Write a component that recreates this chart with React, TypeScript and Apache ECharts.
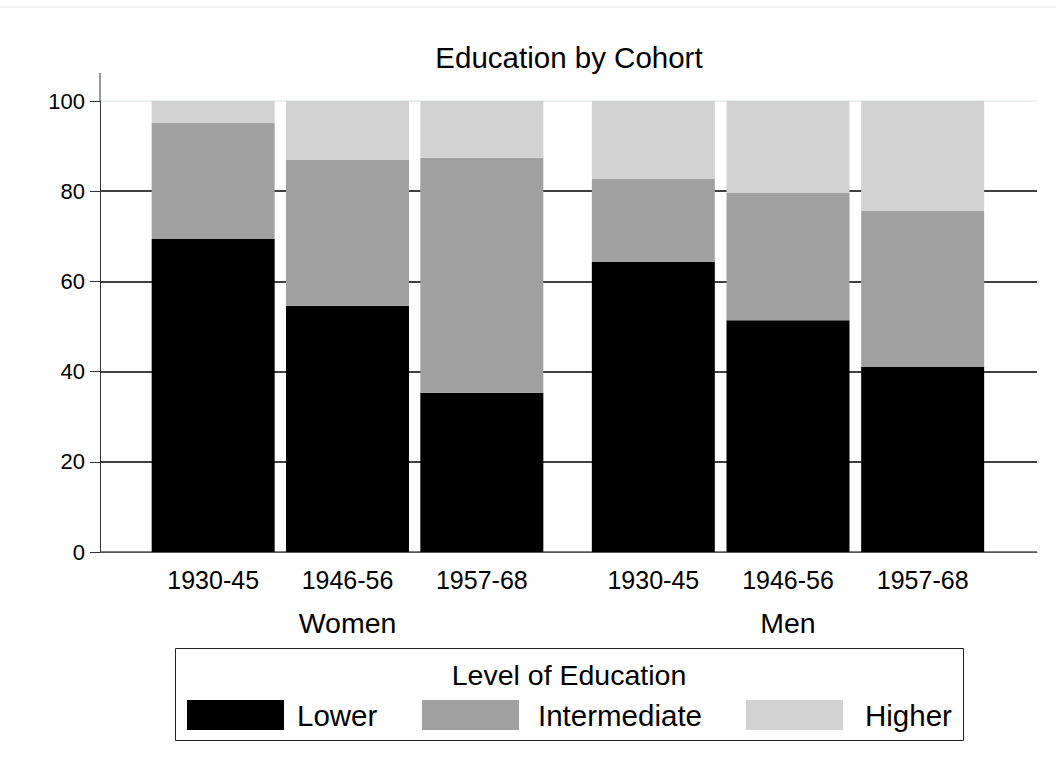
import React, { useEffect, useRef } from "react";
import * as echarts from "echarts";

const cohorts = ["1930-45", "1946-56", "1957-68"];
const groups = ["Women", "Men"];
const levels = ["Lower", "Intermediate", "Higher"];
const levelColors = ["#000000", "#a0a0a0", "#d2d2d2"];

const womenLower = [69.4, 54.6, 35.3];
const womenIntermediate = [25.7, 32.3, 52.1];
const womenHigher = [4.9, 13.1, 12.6];

const menLower = [64.3, 51.4, 41.0];
const menIntermediate = [18.4, 28.2, 34.6];
const menHigher = [17.3, 20.4, 24.4];

const FONT = "'Liberation Sans', Arial, Helvetica, sans-serif";

export default function App() {
  const ref = useRef<HTMLDivElement>(null);

  useEffect(() => {
    if (!ref.current) return;
    const chart = echarts.init(ref.current, null, { renderer: "svg" });

    const groupData = [
      [womenLower, womenIntermediate, womenHigher],
      [menLower, menIntermediate, menHigher],
    ];

    const series: any[] = [];
    groupData.forEach((g, gi) => {
      g.forEach((vals, li) => {
        series.push({
          type: "bar",
          name: levels[li],
          xAxisIndex: gi + 1,
          yAxisIndex: gi + 1,
          stack: groups[gi],
          barWidth: 123,
          data: vals,
          itemStyle: { color: levelColors[li] },
          emphasis: { disabled: true },
        });
      });
    });

    const legendLefts = [187, 422, 746];
    const legendTextPad = [8, 14, 17];

    const option: any = {
      animation: false,
      backgroundColor: "#ffffff",
      textStyle: { fontFamily: FONT },
      grid: [
        { left: 100, top: 101, right: 19, bottom: 219, containLabel: false },
        { left: 146, top: 101, width: 403, bottom: 219, containLabel: false },
        { left: 586, top: 101, width: 404, bottom: 219, containLabel: false },
      ],
      xAxis: [
        {
          gridIndex: 0,
          type: "category",
          data: [""],
          axisLine: { show: true, lineStyle: { color: "#555555", width: 1 } },
          axisTick: { show: false },
          axisLabel: { show: false },
          splitLine: { show: false },
        },
        ...groups.map((g, gi) => ({
          gridIndex: gi + 1,
          type: "category",
          data: cohorts,
          axisLine: { show: false },
          axisTick: { show: false },
          axisLabel: {
            show: true,
            color: "#000",
            fontSize: 25,
            margin: 15,
            fontFamily: FONT,
          },
          name: g,
          nameLocation: "middle",
          nameGap: 56,
          nameTextStyle: { color: "#000", fontSize: 28.5, fontFamily: FONT },
        })),
      ],
      yAxis: [
        {
          gridIndex: 0,
          type: "value",
          min: 0,
          max: 100,
          interval: 20,
          axisLine: { show: true, lineStyle: { color: "#333333", width: 1 } },
          axisTick: { show: true, length: 10, lineStyle: { color: "#333333", width: 1 } },
          axisLabel: {
            color: "#000",
            fontSize: 22,
            margin: 15,
            fontFamily: FONT,
          },
          splitLine: {
            show: true,
            lineStyle: {
              color: ["#555555", "#000000", "#000000", "#000000", "#000000", "#e6edf1"],
              width: 1.7,
            },
          },
        },
        { gridIndex: 1, type: "value", min: 0, max: 100, show: false },
        { gridIndex: 2, type: "value", min: 0, max: 100, show: false },
      ],
      legend: levels.map((l, i) => ({
        data: [l],
        left: legendLefts[i],
        top: 700,
        orient: "horizontal",
        itemWidth: 97,
        itemHeight: 30,
        icon: "rect",
        selectedMode: false,
        padding: 0,
        textStyle: {
          color: "#000",
          fontSize: 29.5,
          fontFamily: FONT,
          padding: [0, 0, 0, legendTextPad[i]],
        },
      })),
      graphic: [
        {
          type: "line",
          shape: { x1: 0, y1: 7, x2: 1056, y2: 7 },
          style: { stroke: "#eceff1", lineWidth: 1.5 },
          silent: true,
        },
        {
          type: "line",
          shape: { x1: 100, y1: 73, x2: 100, y2: 101 },
          style: { stroke: "#333333", lineWidth: 1 },
          silent: true,
        },
        {
          type: "text",
          x: 569,
          y: 57,
          style: {
            text: "Education by Cohort",
            textAlign: "center",
            textVerticalAlign: "middle",
            fontSize: 29.5,
            fontFamily: FONT,
            fill: "#000",
          },
          silent: true,
        },
        {
          type: "rect",
          shape: { x: 175.5, y: 648.5, width: 788, height: 92 },
          style: { fill: "none", stroke: "#222222", lineWidth: 1 },
          silent: true,
          z: -1,
        },
        {
          type: "text",
          x: 569,
          y: 675,
          style: {
            text: "Level of Education",
            textAlign: "center",
            textVerticalAlign: "middle",
            fontSize: 28.5,
            fontFamily: FONT,
            fill: "#000",
          },
          silent: true,
        },
      ],
      series,
    };

    chart.setOption(option);
    return () => chart.dispose();
  }, []);

  return (
    <div
      ref={ref}
      style={{ position: "fixed", left: 0, top: 0, width: 1056, height: 771 }}
    />
  );
}
